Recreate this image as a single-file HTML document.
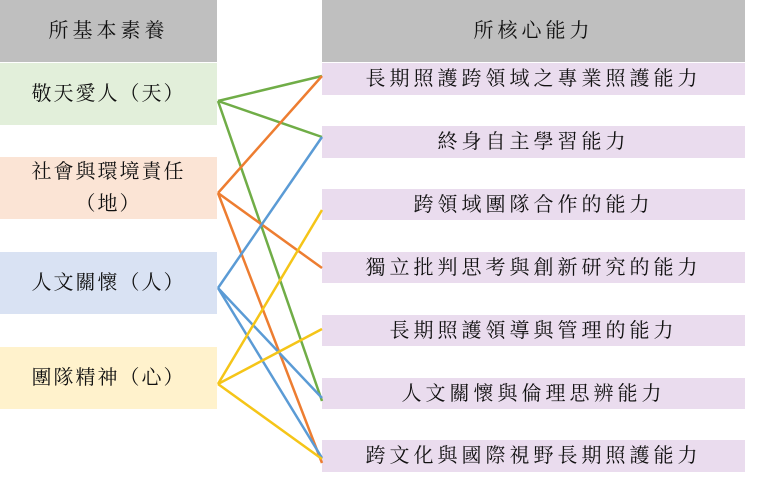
<!DOCTYPE html>
<html><head><meta charset="utf-8"><style>
body{margin:0;width:759px;height:488px;background:#fff;position:relative;overflow:hidden;font-family:"Liberation Serif","Noto Serif CJK SC","Noto Sans CJK TC",serif;font-size:20px;color:#111}
.b{position:absolute;display:flex;align-items:center;justify-content:center;text-align:center;letter-spacing:4px;line-height:32px}
svg{position:absolute;left:0;top:0}
</style></head><body>
<div class="b" style="left:0;top:0;width:217px;height:62px;background:#bfbfbf">所基本素養</div>
<div class="b" style="left:322px;top:0;width:423px;height:62px;background:#bfbfbf">所核心能力</div>
<div class="b" style="left:0;top:63px;width:217px;height:62px;background:#e2efda;letter-spacing:2px">敬天愛人（天）</div>
<div class="b" style="left:0;top:157px;width:217px;height:62px;background:#fbe4d5;letter-spacing:2px">社會與環境責任<br>（地）</div>
<div class="b" style="left:0;top:252px;width:217px;height:62px;background:#d9e2f3;letter-spacing:2px">人文關懷（人）</div>
<div class="b" style="left:0;top:347px;width:217px;height:62px;background:#fff2cc;letter-spacing:2px">團隊精神（心）</div>
<div class="b" style="left:322px;top:63px;width:423px;height:32px;background:#eadcee">長期照護跨領域之專業照護能力</div>
<div class="b" style="left:322px;top:126px;width:423px;height:32px;background:#eadcee">終身自主學習能力</div>
<div class="b" style="left:322px;top:189px;width:423px;height:31px;background:#eadcee">跨領域團隊合作的能力</div>
<div class="b" style="left:322px;top:252px;width:423px;height:31px;background:#eadcee">獨立批判思考與創新研究的能力</div>
<div class="b" style="left:322px;top:315px;width:423px;height:31px;background:#eadcee">長期照護領導與管理的能力</div>
<div class="b" style="left:322px;top:378px;width:423px;height:31px;background:#eadcee">人文關懷與倫理思辨能力</div>
<div class="b" style="left:322px;top:440px;width:423px;height:32px;background:#eadcee">跨文化與國際視野長期照護能力</div>
<svg width="759" height="488" fill="none" stroke-width="2.5">
<g stroke="#70ad47"><path d="M218 101L322 76M218 101L322 137M218 101L322 401"/></g>
<g stroke="#ed7d31"><path d="M218 193L322 76M218 193L322 268M218 193L322 463"/></g>
<g stroke="#5b9bd5"><path d="M218 288L322 137M218 288L322 398M218 288L322 458"/></g>
<g stroke="#f5c518"><path d="M218 384L322 210M218 384L322 329M218 384L322 459"/></g>
</svg>
</body></html>
